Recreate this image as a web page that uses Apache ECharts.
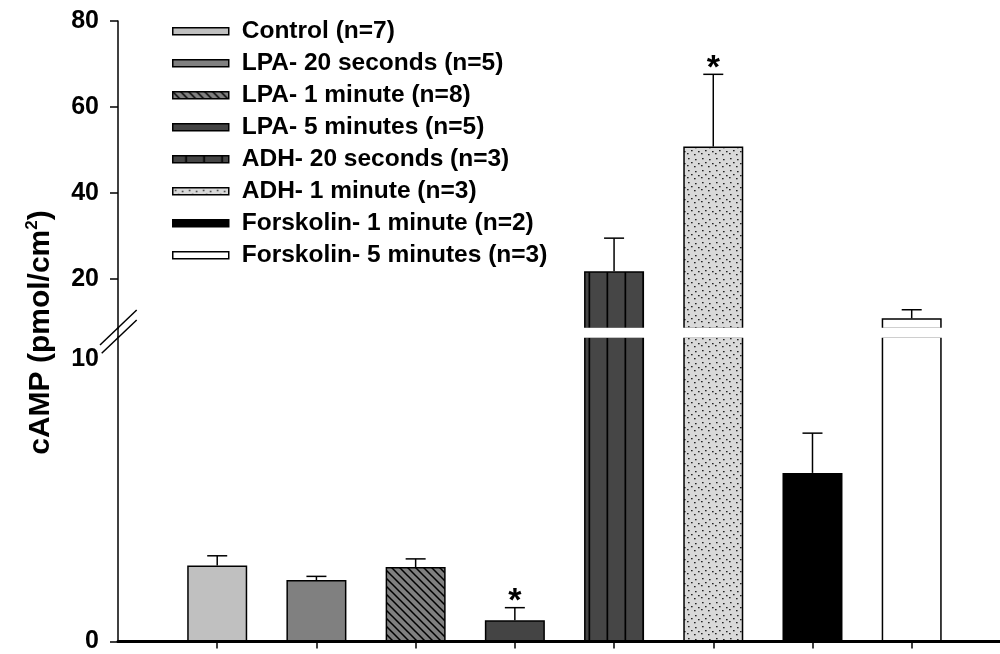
<!DOCTYPE html>
<html><head><meta charset="utf-8">
<script src="https://cdn.jsdelivr.net/npm/echarts@6/dist/echarts.min.js"></script>
<style>html,body{margin:0;padding:0;background:#fff}#c{width:1000px;height:654px}</style>
</head><body><div id="c"></div>
<script>
// ---- data ----
const categories = ['Control (n=7)', 'LPA- 20 seconds (n=5)', 'LPA- 1 minute (n=8)', 'LPA- 5 minutes (n=5)',
  'ADH- 20 seconds (n=3)', 'ADH- 1 minute (n=3)', 'Forskolin- 1 minute (n=2)', 'Forskolin- 5 minutes (n=3)'];
const means = [2.70, 2.18, 2.64, 0.75, 21.8, 50.8, 5.98, 10.85];
const errorTops = [3.04, 2.31, 2.93, 1.20, 29.5, 67.6, 7.39, 12.85];
const significance = ['', '', '', '*', '', '*', '', ''];
const upperTickValues = [20, 40, 60, 80];
const lowerLabelValues = [0, 10];
const lowerTickValues = [0];
const upperRange = [8.5, 80];
const lowerRange = [0, 10.8];

// ---- styles ----
const FONT = '"Liberation Sans", Arial, Helvetica, sans-serif';
function tile(w, h, bg, draw) {
  const c = document.createElement('canvas'); c.width = w; c.height = h;
  const g = c.getContext('2d'); g.fillStyle = bg; g.fillRect(0, 0, w, h);
  g.strokeStyle = '#000'; g.fillStyle = '#000'; draw(g, w, h);
  return { image: c, repeat: 'repeat' };
}
const hatch = tile(8, 8, '#808080', (g, w, h) => {
  g.lineWidth = 1.5; g.beginPath();
  [-8, 0, 8].forEach(c => { g.moveTo(c - 1, -1); g.lineTo(c + w + 1, h + 1); });
  g.stroke();
});
const vlines = tile(18, 4, '#464646', (g) => { g.fillRect(12.5, 0, 1.7, 4); });
const dots = tile(14, 12, '#d9d9d9', (g) => {
  g.fillStyle = '#222';
  [[2, 2], [9, 3], [5, 6], [12, 7], [1, 9], [8, 10]].forEach(p => g.fillRect(p[0], p[1], 1.6, 1.3));
});
const fills = ['#c0c0c0', '#808080', hatch, '#444444', vlines, dots, '#000000', '#ffffff'];

const chart = echarts.init(document.getElementById('c'), null, { renderer: 'canvas' });
const series = [];
categories.forEach((name, i) => {
  [0, 1].forEach(gi => series.push({
    type: 'bar', name, xAxisIndex: gi, yAxisIndex: gi,
    data: [[i + 1, means[i]]], barWidth: 60, barGap: '-100%', clip: true, silent: true,
    itemStyle: { color: fills[i], borderColor: '#000', borderWidth: 1.5 }
  }));
});
[0, 1].forEach(gi => series.push({
  type: 'custom', xAxisIndex: gi, yAxisIndex: gi, silent: true, z: 5,
  data: categories.map((c, i) => [i + 1, means[i], errorTops[i]]),
  encode: { x: 0, y: [1, 2] },
  renderItem: (params, api) => {
    const cs = params.coordSys;
    const p0 = api.coord([api.value(0), api.value(1)]);
    const p1 = api.coord([api.value(0), api.value(2)]);
    if (p0[1] < cs.y - 1 || p0[1] > cs.y + cs.height + 1) return null;
    const st = { stroke: '#000', lineWidth: 1.5 };
    const children = [
      { type: 'line', shape: { x1: p0[0], y1: p0[1], x2: p1[0], y2: p1[1] }, style: st },
      { type: 'line', shape: { x1: p1[0] - 10, y1: p1[1], x2: p1[0] + 10, y2: p1[1] }, style: st }
    ];
    const s = significance[params.dataIndex];
    if (s) children.push({ type: 'text', x: p1[0], y: p1[1] - 6,
      style: { text: s, fill: '#000', font: 'bold 34px ' + FONT, textAlign: 'center', textVerticalAlign: 'middle' } });
    return { type: 'group', children };
  }
}));

const axisLineStyle = { color: '#000', width: 1.5 };
const labelStyle = { color: '#000', fontSize: 25, fontWeight: 'bold', fontFamily: FONT, margin: 19 };
chart.setOption({
  animation: false,
  backgroundColor: '#fff',
  grid: [
    { left: 118, right: 0, top: 21, bottom: 325.55 },
    { left: 118, right: 0, top: 337, bottom: 10 },
    { left: 118, right: 0, top: 21, bottom: 10 }
  ],
  xAxis: [
    { gridIndex: 0, type: 'value', min: 0, max: 8.89, show: false },
    { gridIndex: 1, type: 'value', min: 0, max: 8.89,
      axisLine: { show: true, onZero: false, lineStyle: { color: '#000', width: 3 } },
      axisTick: { show: true, customValues: categories.map((c, i) => i + 1), length: 7, lineStyle: axisLineStyle },
      axisLabel: { show: false }, splitLine: { show: false } },
    { gridIndex: 2, type: 'value', min: 0, max: 1, show: false }
  ],
  yAxis: [
    { gridIndex: 0, type: 'value', min: upperRange[0], max: upperRange[1],
      axisLine: { show: true, lineStyle: axisLineStyle },
      axisTick: { show: true, customValues: upperTickValues, length: 8, lineStyle: axisLineStyle },
      axisLabel: Object.assign({ customValues: upperTickValues }, labelStyle), splitLine: { show: false } },
    { gridIndex: 1, type: 'value', min: lowerRange[0], max: lowerRange[1],
      axisLine: { show: true, lineStyle: axisLineStyle },
      axisTick: { show: true, customValues: lowerTickValues, length: 8, lineStyle: axisLineStyle },
      axisLabel: Object.assign({ customValues: lowerLabelValues }, labelStyle), splitLine: { show: false } },
    { gridIndex: 2, type: 'value', min: 0, max: 1,
      axisLine: { show: false }, axisTick: { show: false }, axisLabel: { show: false }, splitLine: { show: false },
      name: '{a|cAMP (pmol/cm}{s|2}{a|)}', nameLocation: 'middle', nameGap: 60, nameRotate: 90,
      nameTextStyle: { rich: {
        a: { fontSize: 30, fontWeight: 'bold', fontFamily: FONT, color: '#000', lineHeight: 34 },
        s: { fontSize: 17, fontWeight: 'bold', fontFamily: FONT, color: '#000', verticalAlign: 'top', lineHeight: 20 }
      } } }
  ],
  legend: {
    data: categories, orient: 'vertical', left: 172, top: 18.7, padding: 0, itemGap: 7,
    itemWidth: 56, itemHeight: 7, icon: 'rect', selectedMode: false,
    itemStyle: { borderColor: '#000', borderWidth: 1.5 },
    textStyle: { fontSize: 24.5, fontWeight: 'bold', color: '#000', fontFamily: FONT, lineHeight: 24, padding: [0, 0, 0, 8] }
  },
  series
});

// axis break decoration derived from the axes
const axisX = chart.convertToPixel({ xAxisIndex: 1 }, 0);
const gapTop = chart.convertToPixel({ yAxisIndex: 0 }, upperRange[0]);
const gapBot = chart.convertToPixel({ yAxisIndex: 1 }, lowerRange[1]);
const midY = (gapTop + gapBot) / 2;
const ls = { stroke: '#000', lineWidth: 1.5 };
chart.setOption({ graphic: [
  { type: 'rect', z: 50, shape: { x: axisX + 1, y: gapTop - 0.8, width: 1000, height: gapBot - gapTop + 1.6 }, style: { fill: '#fff' } },
  { type: 'line', z: 51, shape: { x1: axisX, y1: gapTop - 1, x2: axisX, y2: gapBot + 1 }, style: ls },
  { type: 'line', z: 51, shape: { x1: axisX - 18, y1: midY + 12.3, x2: axisX + 18.7, y2: midY - 22.7 }, style: ls },
  { type: 'line', z: 51, shape: { x1: axisX - 16.3, y1: midY + 20.6, x2: axisX + 18.7, y2: midY - 12.7 }, style: ls }
] });
</script>
</body></html>
